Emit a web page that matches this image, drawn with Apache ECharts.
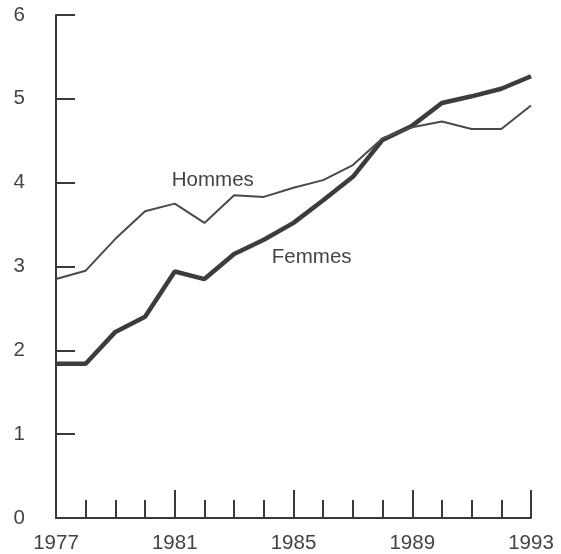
<!DOCTYPE html>
<html>
<head>
<meta charset="utf-8">
<script src="https://cdn.jsdelivr.net/npm/echarts@6/dist/echarts.min.js"></script>
<style>html,body{margin:0;padding:0;background:#fff;}#c{width:561px;height:554px;}</style>
</head>
<body>
<div id="c"></div>
<script>
const years = [1977,1978,1979,1980,1981,1982,1983,1984,1985,1986,1987,1988,1989,1990,1991,1992,1993];
const hommes = [2.85,2.95,3.33,3.66,3.75,3.52,3.85,3.83,3.94,4.03,4.21,4.53,4.66,4.73,4.64,4.64,4.92];
const femmes = [1.84,1.84,2.22,2.40,2.94,2.85,3.15,3.32,3.52,3.79,4.07,4.51,4.68,4.95,5.03,5.12,5.27];
const xLabelYears = [1977,1981,1985,1989,1993];
const xMajorTicks = [1981,1985,1989,1993];
const xMinorTicks = [1978,1979,1980,1982,1983,1984,1986,1987,1988,1990,1991,1992];
const yTicks = [0,1,2,3,4,5,6];
const seriesNames = ['Hommes','Femmes'];
const labelAnchors = {Hommes:[1980.9,4.03], Femmes:[1984.27,3.11]};

const axisColor = '#3a3a3a';
const textColor = '#444';
const font = 'Liberation Sans, Arial, sans-serif';
const fs = 20.5;

const chart = echarts.init(document.getElementById('c'), null, {renderer:'canvas'});
chart.setOption({
  backgroundColor:'#fff',
  animation:false,
  grid:{left:56, right:30, top:15, bottom:36, containLabel:false},
  xAxis:[{
    type:'value', min:1977, max:1993,
    axisLine:{show:true, lineStyle:{color:axisColor, width:2}},
    axisTick:{show:true, inside:true, length:28, customValues:xMajorTicks, lineStyle:{color:axisColor, width:2}},
    axisLabel:{show:true, customValues:xLabelYears, margin:15, color:textColor, fontSize:fs, fontFamily:font,
      formatter:v=>String(v)},
    splitLine:{show:false}
  },{
    type:'value', min:1977, max:1993, position:'bottom',
    axisLine:{show:false},
    axisTick:{show:true, inside:true, length:18, customValues:xMinorTicks, lineStyle:{color:axisColor, width:2}},
    axisLabel:{show:false},
    splitLine:{show:false}
  }],
  yAxis:{
    type:'value', min:0, max:6,
    axisLine:{show:true, lineStyle:{color:axisColor, width:2}},
    axisTick:{show:true, inside:true, length:19, customValues:yTicks, lineStyle:{color:axisColor, width:2}},
    axisLabel:{show:true, customValues:yTicks, margin:31, color:textColor, fontSize:fs, fontFamily:font},
    splitLine:{show:false}
  },
  series:[{
    name:seriesNames[0], type:'line', xAxisIndex:0,
    data:years.map((y,i)=>[y,hommes[i]]),
    symbol:'none', lineStyle:{color:'#4a4a4a', width:2}, z:3,
    markPoint:{symbol:'circle', symbolSize:0, silent:true,
      data:[{coord:labelAnchors.Hommes, label:{show:true, position:'right', distance:0, formatter:seriesNames[0], color:textColor, fontSize:fs, fontFamily:font}}]}
  },{
    name:seriesNames[1], type:'line', xAxisIndex:0,
    data:years.map((y,i)=>[y,femmes[i]]),
    symbol:'none', lineStyle:{color:'#3c3c3c', width:4.5}, z:2,
    markPoint:{symbol:'circle', symbolSize:0, silent:true,
      data:[{coord:labelAnchors.Femmes, label:{show:true, position:'right', distance:0, formatter:seriesNames[1], color:textColor, fontSize:fs, fontFamily:font}}]}
  }]
});
</script>
</body>
</html>
